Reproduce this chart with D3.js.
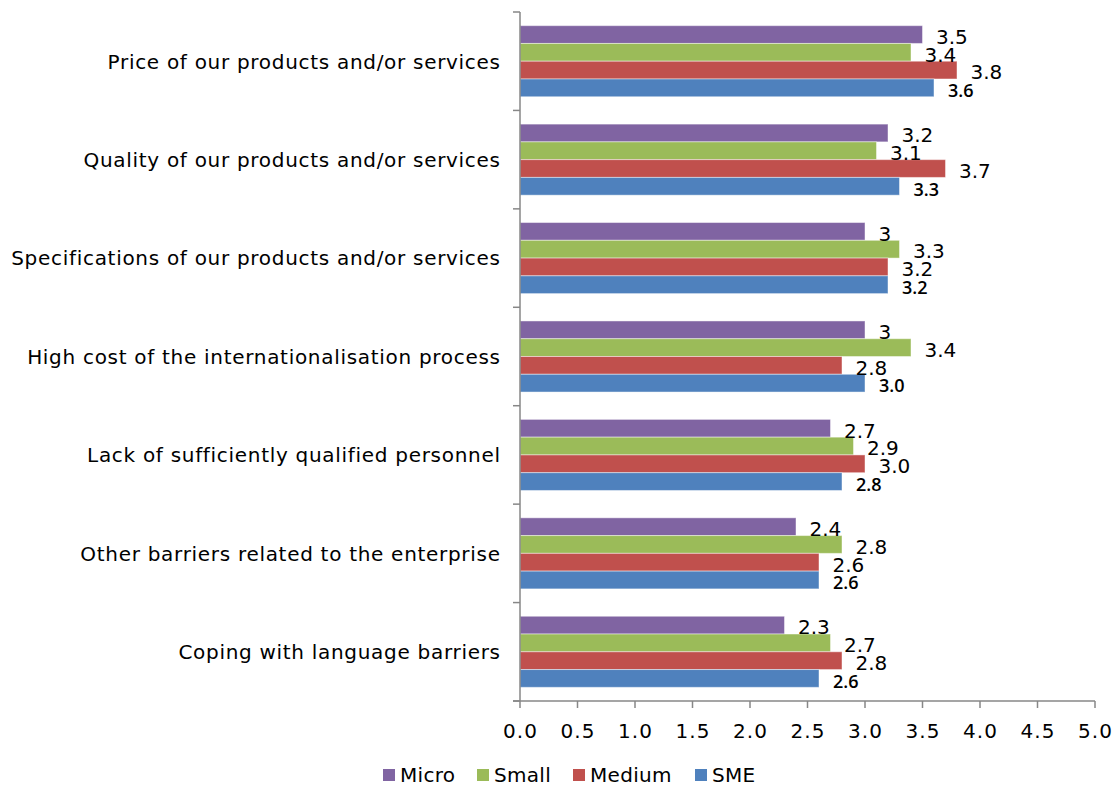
<!DOCTYPE html>
<html><head><meta charset="utf-8">
<script src="https://cdn.jsdelivr.net/npm/d3@7"></script>
<style>
body{margin:0;background:#fff;}
svg{display:block;}
text{font-family:"DejaVu Sans",Verdana,sans-serif;fill:#000;}
</style></head>
<body><svg id="c" width="1115" height="787"></svg>
<script>
const categories = [
  "Price of our products and/or services",
  "Quality of our products and/or services",
  "Specifications of our products and/or services",
  "High cost of the internationalisation process",
  "Lack of sufficiently qualified personnel",
  "Other barriers related to the enterprise",
  "Coping with language barriers"
];
const seriesNames = ["Micro","Small","Medium","SME"];
const micro  = [3.5,3.2,3.0,3.0,2.7,2.4,2.3];
const small  = [3.4,3.1,3.3,3.4,2.9,2.8,2.7];
const medium = [3.8,3.7,3.2,2.8,3.0,2.6,2.8];
const sme    = [3.6,3.3,3.2,3.0,2.8,2.6,2.6];
const xTicks = [0,0.5,1,1.5,2,2.5,3,3.5,4,4.5,5];
const colors = {Micro:"#8064A2",Small:"#9BBB59",Medium:"#C0504D",SME:"#4F81BD"};

const values = {Micro:micro,Small:small,Medium:medium,SME:sme};
const fmt = {Micro:v=>String(v),Small:v=>v.toFixed(1),Medium:v=>v.toFixed(1),SME:v=>v.toFixed(1)};

const svg = d3.select("#c");
const L=520,R=1095,T=12,B=701;
const x = d3.scaleLinear().domain([0,5]).range([L,R]);
const y = d3.scaleBand().domain(categories).range([T,B]).padding(0);
const ys = d3.scaleBand().domain(seriesNames).range([0,y.bandwidth()]).paddingInner(0).paddingOuter(0.77);

const g = svg.append("g");
categories.forEach((c,i)=>{
  seriesNames.forEach(s=>{
    const v = values[s][i];
    g.append("rect").attr("x",x(0)).attr("y",y(c)+ys(s))
      .attr("width",x(v)-x(0)).attr("height",ys.bandwidth())
      .attr("fill",colors[s]).attr("stroke","rgba(255,255,255,0.45)").attr("stroke-width",1);
  });
});
// data labels
categories.forEach((c,i)=>{
  seriesNames.forEach(s=>{
    const v = values[s][i];
    const t = g.append("text").attr("x",x(v)+13.5).attr("y",y(c)+ys(s)+ys.bandwidth()/2+9.3)
      .text(fmt[s](v));
    if(s==="SME"){
      t.style("font-family","'Open Sans',Arial,sans-serif").style("font-size","18px").style("font-weight","600").attr("x",x(v)+14);
    } else {
      t.style("font-size","20px");
    }
  });
});

// y axis
const axColor="#878787";
svg.append("line").attr("x1",L).attr("x2",L).attr("y1",T).attr("y2",B).attr("stroke",axColor).attr("stroke-width",1.5);
d3.range(categories.length+1).forEach(k=>{
  const yy = T + k*y.step();
  svg.append("line").attr("x1",L-7).attr("x2",L).attr("y1",yy).attr("y2",yy).attr("stroke",axColor).attr("stroke-width",1.5);
});
categories.forEach(c=>{
  svg.append("text").attr("x",500.7).attr("y",y(c)+y.bandwidth()/2+7.3).attr("text-anchor","end")
    .style("font-size","20px").style("letter-spacing","0.7px").text(c);
});
// x axis
svg.append("line").attr("x1",L-7).attr("x2",R).attr("y1",B).attr("y2",B).attr("stroke",axColor).attr("stroke-width",1.5);
xTicks.forEach(t=>{
  svg.append("line").attr("x1",x(t)).attr("x2",x(t)).attr("y1",B).attr("y2",B+7).attr("stroke",axColor).attr("stroke-width",1.5);
  svg.append("text").attr("x",x(t)+0.5).attr("y",738).attr("text-anchor","middle")
    .style("font-size","20px").style("letter-spacing","1px").text(t.toFixed(1));
});
// legend
const legX = {Micro:383,Small:477,Medium:573,SME:695};
seriesNames.forEach(s=>{
  svg.append("rect").attr("x",legX[s]).attr("y",769).attr("width",12).attr("height",12).attr("fill",colors[s]);
  svg.append("text").attr("x",legX[s]+17).attr("y",782)
    .style("font-size","20px").style("letter-spacing","0.3px").text(s);
});
</script></body></html>
